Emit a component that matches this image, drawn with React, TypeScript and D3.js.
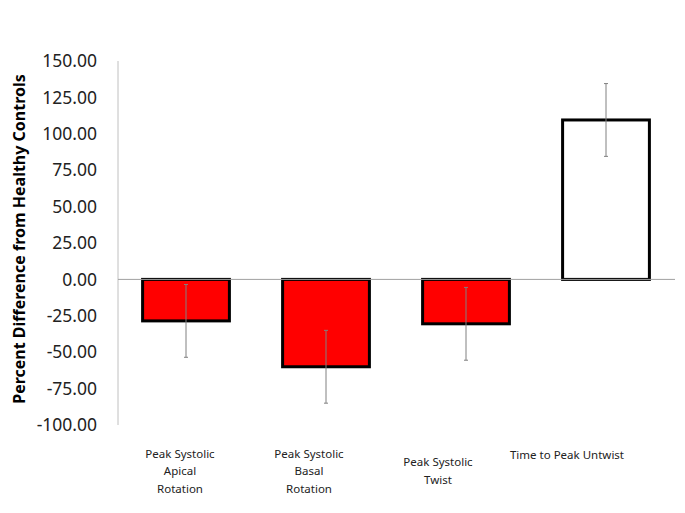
import React from "react";
import * as d3 from "d3";

// chart data
const categories = ["apical", "basal", "twist", "untwist"];
const labelLines = [
  ["Peak Systolic", "Apical", "Rotation"],
  ["Peak Systolic", "Basal", "Rotation"],
  ["Peak Systolic", "Twist"],
  ["Time to Peak Untwist"],
];
const values = [-28.5, -60, -30.5, 109.5];
const errors = [25, 25, 25, 25];
const fills = ["#ff0000", "#ff0000", "#ff0000", "#ffffff"];
const yTicks = [150, 125, 100, 75, 50, 25, 0, -25, -50, -75, -100];

const width = 685;
const height = 513;
const font = "'Noto Sans', 'DejaVu Sans', sans-serif";

const App = () => {
  const y = d3.scaleLinear().domain([-100, 150]).range([425, 61]);
  const x = d3.scaleBand().domain(categories).range([116, 676]).paddingInner(0.38).paddingOuter(0.19);
  const labelX = d3.scalePoint().domain(categories).range([180, 567]);
  const axisX = 118;
  const lineH = 17.5;

  return (
    <svg width={width} height={height} style={{ position: "absolute", left: 0, top: 0 }}>
      <rect width={width} height={height} fill="#fff" />

      {/* y axis line */}
      <line x1={axisX} x2={axisX} y1={y(150)} y2={y(-100)} stroke="#c0c0c0" strokeWidth={1} />

      {/* tick labels */}
      {yTicks.map((t) => (
        <text
          key={t}
          x={97}
          y={y(t)}
          dy="0.35em"
          textAnchor="end"
          fontFamily={font}
          fontSize={17.5}
          fill="#222"
        >
          {t.toFixed(2)}
        </text>
      ))}

      {/* axis title */}
      <text
        transform={`translate(25,${(y(150) + y(-100)) / 2 - 4}) rotate(-90)`}
        textAnchor="middle"
        fontFamily={font}
        fontWeight="bold"
        fontSize={16}
        fill="#000"
      >
        Percent Difference from Healthy Controls
      </text>

      {/* bars */}
      {categories.map((c, i) => {
        const v = values[i];
        const x0 = x(c)!;
        return (
          <rect
            key={c}
            x={x0}
            y={Math.min(y(v), y(0))}
            width={x.bandwidth()}
            height={Math.abs(y(v) - y(0))}
            fill={fills[i]}
            stroke="#000"
            strokeWidth={3}
          />
        );
      })}

      {/* zero line */}
      <line x1={axisX} x2={675} y1={y(0)} y2={y(0)} stroke="#a0a0a0" strokeWidth={1} />

      {/* error bars */}
      {categories.map((c, i) => {
        const cx = x(c)! + x.bandwidth() / 2;
        const hi = y(values[i] + errors[i]);
        const lo = y(values[i] - errors[i]);
        return (
          <g key={c} stroke="#808080" strokeWidth={1}>
            <line x1={cx} x2={cx} y1={hi} y2={lo} />
            <line x1={cx - 2} x2={cx + 2} y1={hi} y2={hi} />
            <line x1={cx - 2} x2={cx + 2} y1={lo} y2={lo} />
          </g>
        );
      })}

      {/* category labels */}
      {categories.map((c, i) => {
        const lines = labelLines[i];
        const startY = lines.length === 1 ? 455 : 471 - ((lines.length - 1) * lineH) / 2;
        return (
          <text
            key={c}
            x={labelX(c)}
            y={startY}
            textAnchor="middle"
            fontFamily={font}
            fontSize={11.5}
            fill="#222"
          >
            {lines.map((l, j) => (
              <tspan key={j} x={labelX(c)} dy={j === 0 ? "0.35em" : lineH}>
                {l}
              </tspan>
            ))}
          </text>
        );
      })}
    </svg>
  );
};

export default App;
